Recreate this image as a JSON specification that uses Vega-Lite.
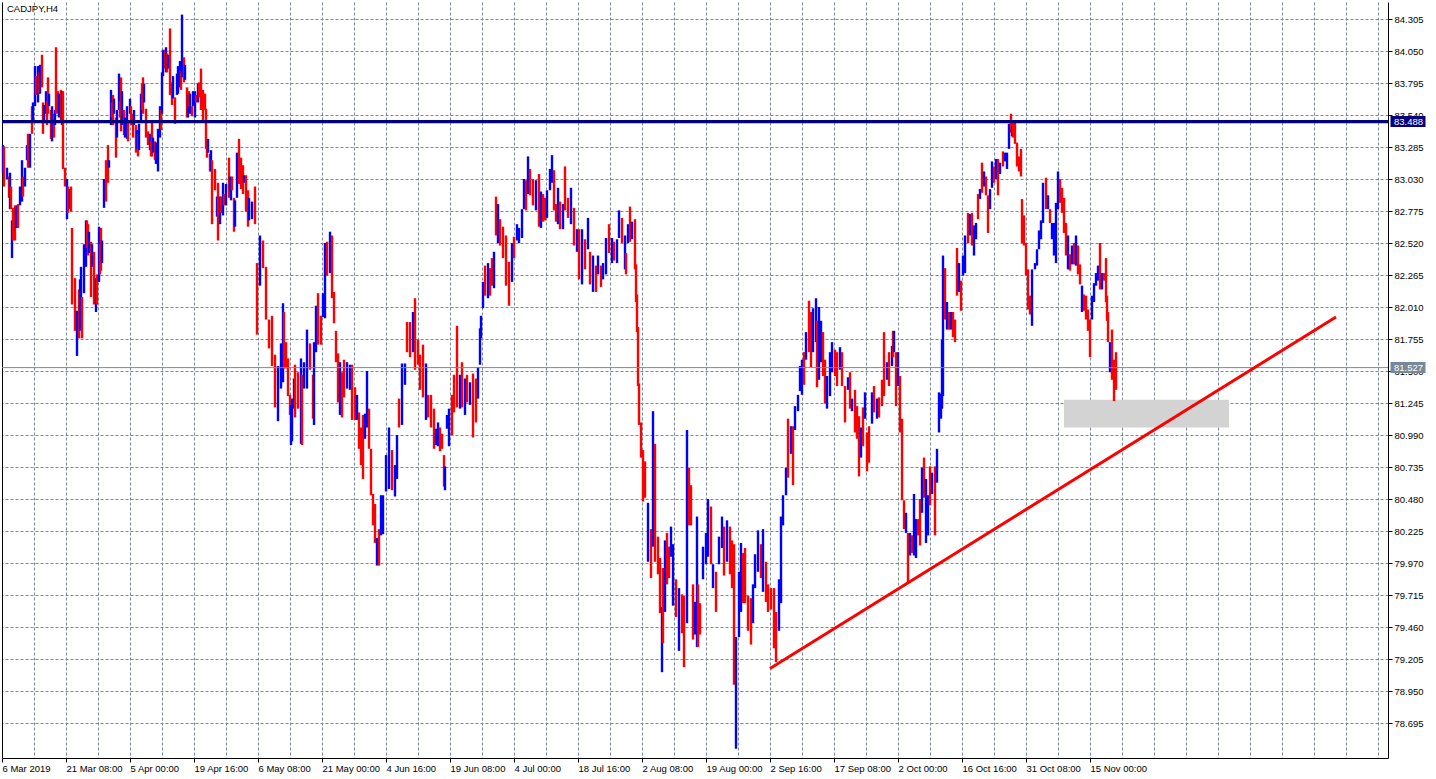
{
  "$schema": "https://vega.github.io/schema/vega-lite/v6.json",
  "width": 1386,
  "height": 756,
  "autosize": {"type": "none"},
  "padding": {"left": 2, "top": 2, "right": 48, "bottom": 21},
  "background": "#ffffff",
  "config": {
    "view": {"stroke": null},
    "axis": {"labelFont": "Liberation Sans", "labelFontSize": 9.5, "labelColor": "#000000", "tickColor": "#000000", "domainColor": "#000000", "gridColor": "#778899", "gridDash": [3, 2], "gridWidth": 1}
  },
  "datasets": {
    "bars": [
      {"x":3,"hi":83.30,"lo":83.08,"d":"u"},{"x":4,"hi":83.29,"lo":82.97,"d":"d"},{"x":7,"hi":83.12,"lo":83.03,"d":"u"},{"x":9,"hi":83.05,"lo":82.88,"d":"d"},{"x":10,"hi":83.08,"lo":82.79,"d":"u"},{"x":11,"hi":82.97,"lo":82.79,"d":"d"},{"x":12,"hi":82.70,"lo":82.40,"d":"u"},{"x":13,"hi":82.80,"lo":82.54,"d":"d"},{"x":15,"hi":82.82,"lo":82.54,"d":"d"},{"x":16,"hi":82.80,"lo":82.64,"d":"u"},{"x":17,"hi":82.82,"lo":82.64,"d":"u"},{"x":18,"hi":82.83,"lo":82.64,"d":"d"},{"x":20,"hi":82.97,"lo":82.82,"d":"u"},{"x":22,"hi":83.18,"lo":82.85,"d":"u"},{"x":23,"hi":83.05,"lo":82.89,"d":"d"},{"x":25,"hi":83.12,"lo":82.97,"d":"u"},{"x":27,"hi":83.30,"lo":83.18,"d":"u"},{"x":28,"hi":83.39,"lo":83.12,"d":"d"},{"x":29,"hi":83.38,"lo":83.24,"d":"d"},{"x":30,"hi":83.39,"lo":83.12,"d":"u"},
      {"x":32,"hi":83.61,"lo":83.39,"d":"d"},{"x":33,"hi":83.64,"lo":83.49,"d":"u"},{"x":35,"hi":83.93,"lo":83.61,"d":"u"},{"x":36,"hi":83.85,"lo":83.70,"d":"d"},{"x":38,"hi":83.93,"lo":83.64,"d":"u"},{"x":39,"hi":83.88,"lo":83.71,"d":"d"},{"x":40,"hi":83.94,"lo":83.71,"d":"u"},{"x":42,"hi":84.02,"lo":83.76,"d":"d"},{"x":43,"hi":83.64,"lo":83.39,"d":"d"},{"x":44,"hi":83.62,"lo":83.49,"d":"u"},{"x":46,"hi":83.73,"lo":83.55,"d":"u"},{"x":47,"hi":83.65,"lo":83.46,"d":"d"},{"x":48,"hi":83.84,"lo":83.55,"d":"d"},{"x":49,"hi":83.71,"lo":83.61,"d":"u"},{"x":51,"hi":83.58,"lo":83.35,"d":"d"},{"x":52,"hi":83.61,"lo":83.33,"d":"u"},{"x":54,"hi":83.55,"lo":83.36,"d":"d"},{"x":55,"hi":83.58,"lo":83.46,"d":"u"},{"x":56,"hi":84.08,"lo":83.55,"d":"d"},{"x":58,"hi":83.73,"lo":83.55,"d":"d"},
      {"x":59,"hi":83.71,"lo":83.52,"d":"u"},{"x":61,"hi":83.74,"lo":83.49,"d":"d"},{"x":62,"hi":83.73,"lo":83.46,"d":"u"},{"x":63,"hi":83.73,"lo":83.11,"d":"d"},{"x":65,"hi":83.12,"lo":82.97,"d":"d"},{"x":67,"hi":83.03,"lo":82.71,"d":"u"},{"x":68,"hi":82.97,"lo":82.76,"d":"d"},{"x":70,"hi":82.95,"lo":82.79,"d":"u"},{"x":71,"hi":82.97,"lo":82.77,"d":"d"},{"x":72,"hi":82.64,"lo":82.03,"d":"d"},{"x":75,"hi":82.24,"lo":81.82,"d":"d"},{"x":77,"hi":81.98,"lo":81.62,"d":"u"},{"x":79,"hi":82.15,"lo":81.76,"d":"d"},{"x":80,"hi":82.23,"lo":81.82,"d":"u"},{"x":81,"hi":82.33,"lo":82.03,"d":"u"},{"x":82,"hi":82.09,"lo":81.76,"d":"d"},{"x":84,"hi":82.51,"lo":82.12,"d":"u"},{"x":86,"hi":82.70,"lo":82.33,"d":"u"},{"x":87,"hi":82.70,"lo":82.48,"d":"d"},{"x":88,"hi":82.67,"lo":82.42,"d":"d"},
      {"x":89,"hi":82.61,"lo":82.44,"d":"u"},{"x":91,"hi":82.53,"lo":82.09,"d":"d"},{"x":92,"hi":82.51,"lo":82.33,"d":"u"},{"x":94,"hi":82.45,"lo":82.03,"d":"d"},{"x":96,"hi":82.24,"lo":81.97,"d":"u"},{"x":97,"hi":82.27,"lo":82.03,"d":"d"},{"x":99,"hi":82.65,"lo":82.21,"d":"u"},{"x":100,"hi":82.51,"lo":82.27,"d":"d"},{"x":101,"hi":82.64,"lo":82.30,"d":"d"},{"x":102,"hi":82.54,"lo":82.36,"d":"u"},{"x":104,"hi":83.03,"lo":82.80,"d":"u"},{"x":106,"hi":83.18,"lo":82.85,"d":"d"},{"x":108,"hi":83.30,"lo":83.00,"d":"d"},{"x":109,"hi":83.18,"lo":83.12,"d":"u"},{"x":111,"hi":83.74,"lo":83.46,"d":"u"},{"x":112,"hi":83.64,"lo":83.52,"d":"d"},{"x":113,"hi":83.70,"lo":83.46,"d":"d"},{"x":114,"hi":83.67,"lo":83.55,"d":"u"},{"x":116,"hi":83.52,"lo":83.20,"d":"d"},{"x":117,"hi":83.58,"lo":83.36,"d":"u"},
      {"x":119,"hi":83.87,"lo":83.58,"d":"u"},{"x":120,"hi":83.65,"lo":83.52,"d":"d"},{"x":121,"hi":83.84,"lo":83.41,"d":"d"},{"x":122,"hi":83.73,"lo":83.46,"d":"u"},{"x":124,"hi":83.58,"lo":83.38,"d":"d"},{"x":125,"hi":83.52,"lo":83.36,"d":"u"},{"x":127,"hi":83.61,"lo":83.35,"d":"u"},{"x":128,"hi":83.49,"lo":83.33,"d":"d"},{"x":130,"hi":83.67,"lo":83.55,"d":"u"},{"x":131,"hi":83.61,"lo":83.46,"d":"d"},{"x":133,"hi":83.55,"lo":83.36,"d":"d"},{"x":134,"hi":83.58,"lo":83.46,"d":"u"},{"x":136,"hi":83.46,"lo":83.24,"d":"d"},{"x":137,"hi":83.42,"lo":83.27,"d":"u"},{"x":138,"hi":83.39,"lo":83.21,"d":"d"},{"x":139,"hi":83.47,"lo":83.26,"d":"u"},{"x":141,"hi":83.71,"lo":83.49,"d":"u"},{"x":142,"hi":83.79,"lo":83.58,"d":"d"},{"x":143,"hi":83.84,"lo":83.55,"d":"d"},{"x":144,"hi":83.79,"lo":83.64,"d":"u"},
      {"x":146,"hi":83.59,"lo":83.36,"d":"d"},{"x":148,"hi":83.41,"lo":83.30,"d":"d"},{"x":150,"hi":83.39,"lo":83.26,"d":"u"},{"x":151,"hi":83.33,"lo":83.21,"d":"d"},{"x":152,"hi":83.49,"lo":83.21,"d":"d"},{"x":153,"hi":83.36,"lo":83.24,"d":"u"},{"x":155,"hi":83.33,"lo":83.18,"d":"d"},{"x":156,"hi":83.32,"lo":83.15,"d":"u"},{"x":158,"hi":83.43,"lo":83.09,"d":"u"},{"x":160,"hi":83.61,"lo":83.36,"d":"u"},{"x":161,"hi":83.58,"lo":83.42,"d":"d"},{"x":162,"hi":83.88,"lo":83.55,"d":"u"},{"x":163,"hi":84.06,"lo":83.85,"d":"u"},{"x":165,"hi":84.06,"lo":83.91,"d":"d"},{"x":166,"hi":84.08,"lo":83.88,"d":"u"},{"x":167,"hi":84.03,"lo":83.88,"d":"d"},{"x":168,"hi":84.02,"lo":83.91,"d":"u"},{"x":170,"hi":84.23,"lo":83.70,"d":"d"},{"x":172,"hi":83.80,"lo":83.62,"d":"d"},{"x":173,"hi":83.85,"lo":83.67,"d":"u"},
      {"x":175,"hi":83.68,"lo":83.47,"d":"d"},{"x":177,"hi":83.87,"lo":83.70,"d":"u"},{"x":178,"hi":83.93,"lo":83.71,"d":"u"},{"x":180,"hi":83.97,"lo":83.76,"d":"u"},{"x":181,"hi":83.89,"lo":83.74,"d":"d"},{"x":182,"hi":84.34,"lo":83.84,"d":"u"},{"x":184,"hi":84.00,"lo":83.80,"d":"d"},{"x":185,"hi":83.94,"lo":83.82,"d":"u"},{"x":187,"hi":83.76,"lo":83.52,"d":"d"},{"x":188,"hi":83.70,"lo":83.52,"d":"u"},{"x":189,"hi":83.73,"lo":83.61,"d":"d"},{"x":190,"hi":83.71,"lo":83.55,"d":"u"},{"x":192,"hi":83.61,"lo":83.53,"d":"d"},{"x":193,"hi":83.73,"lo":83.61,"d":"u"},{"x":195,"hi":83.73,"lo":83.52,"d":"u"},{"x":196,"hi":83.70,"lo":83.64,"d":"d"},{"x":198,"hi":83.79,"lo":83.64,"d":"u"},{"x":199,"hi":83.80,"lo":83.68,"d":"d"},{"x":201,"hi":83.91,"lo":83.58,"d":"d"},{"x":203,"hi":83.74,"lo":83.50,"d":"d"},
      {"x":205,"hi":83.71,"lo":83.58,"d":"d"},{"x":206,"hi":83.59,"lo":83.27,"d":"d"},{"x":207,"hi":83.33,"lo":83.20,"d":"d"},{"x":208,"hi":83.35,"lo":83.24,"d":"u"},{"x":210,"hi":83.23,"lo":83.09,"d":"d"},{"x":211,"hi":83.26,"lo":83.09,"d":"u"},{"x":212,"hi":83.18,"lo":82.67,"d":"d"},{"x":215,"hi":83.11,"lo":82.94,"d":"d"},{"x":217,"hi":82.89,"lo":82.73,"d":"u"},{"x":218,"hi":83.00,"lo":82.54,"d":"d"},{"x":220,"hi":82.89,"lo":82.67,"d":"u"},{"x":221,"hi":82.89,"lo":82.76,"d":"d"},{"x":223,"hi":83.00,"lo":82.74,"d":"u"},{"x":224,"hi":82.91,"lo":82.82,"d":"d"},{"x":226,"hi":82.99,"lo":82.82,"d":"u"},{"x":229,"hi":83.20,"lo":82.88,"d":"d"},{"x":230,"hi":83.05,"lo":82.94,"d":"u"},{"x":231,"hi":82.97,"lo":82.86,"d":"u"},{"x":232,"hi":83.05,"lo":82.94,"d":"d"},{"x":234,"hi":82.88,"lo":82.61,"d":"d"},
      {"x":235,"hi":82.86,"lo":82.65,"d":"u"},{"x":237,"hi":83.24,"lo":82.88,"d":"u"},{"x":239,"hi":83.35,"lo":82.99,"d":"d"},{"x":241,"hi":83.20,"lo":82.95,"d":"d"},{"x":243,"hi":83.14,"lo":82.91,"d":"d"},{"x":244,"hi":83.06,"lo":83.00,"d":"u"},{"x":246,"hi":83.06,"lo":82.77,"d":"d"},{"x":248,"hi":82.94,"lo":82.65,"d":"d"},{"x":249,"hi":82.88,"lo":82.70,"d":"u"},{"x":252,"hi":82.85,"lo":82.71,"d":"u"},{"x":255,"hi":82.97,"lo":82.67,"d":"d"},{"x":257,"hi":82.36,"lo":81.79,"d":"d"},{"x":260,"hi":82.58,"lo":82.18,"d":"u"},{"x":263,"hi":82.54,"lo":82.32,"d":"d"},{"x":266,"hi":82.33,"lo":81.91,"d":"d"},{"x":269,"hi":81.91,"lo":81.68,"d":"d"},{"x":272,"hi":81.94,"lo":81.54,"d":"d"},{"x":275,"hi":81.63,"lo":81.21,"d":"d"},{"x":278,"hi":81.54,"lo":81.10,"d":"u"},{"x":281,"hi":81.72,"lo":81.36,"d":"u"},{"x":283,"hi":82.04,"lo":81.41,"d":"u"},
      {"x":284,"hi":81.97,"lo":81.52,"d":"d"},{"x":286,"hi":81.73,"lo":81.52,"d":"d"},{"x":288,"hi":81.60,"lo":81.30,"d":"d"},{"x":290,"hi":81.31,"lo":81.15,"d":"d"},{"x":291,"hi":81.23,"lo":80.91,"d":"u"},{"x":292,"hi":81.28,"lo":80.94,"d":"u"},{"x":294,"hi":81.44,"lo":81.20,"d":"u"},{"x":295,"hi":81.55,"lo":81.13,"d":"d"},{"x":298,"hi":81.49,"lo":81.20,"d":"d"},{"x":301,"hi":81.60,"lo":80.92,"d":"u"},{"x":302,"hi":81.47,"lo":80.91,"d":"d"},{"x":304,"hi":81.57,"lo":81.36,"d":"u"},{"x":307,"hi":81.83,"lo":81.36,"d":"u"},{"x":310,"hi":81.72,"lo":81.51,"d":"d"},{"x":313,"hi":81.47,"lo":81.12,"d":"d"},{"x":314,"hi":81.73,"lo":81.07,"d":"u"},{"x":316,"hi":82.02,"lo":81.65,"d":"u"},{"x":318,"hi":82.12,"lo":81.71,"d":"d"},{"x":321,"hi":81.94,"lo":81.71,"d":"d"},{"x":323,"hi":82.12,"lo":81.93,"d":"u"},{"x":325,"hi":82.52,"lo":81.92,"d":"u"},
      {"x":327,"hi":82.53,"lo":82.26,"d":"d"},{"x":330,"hi":82.61,"lo":82.28,"d":"u"},{"x":332,"hi":82.58,"lo":82.08,"d":"d"},{"x":334,"hi":82.13,"lo":81.88,"d":"d"},{"x":336,"hi":81.82,"lo":81.57,"d":"d"},{"x":338,"hi":81.64,"lo":81.25,"d":"d"},{"x":340,"hi":81.57,"lo":81.15,"d":"u"},{"x":342,"hi":81.49,"lo":81.13,"d":"d"},{"x":344,"hi":81.59,"lo":81.29,"d":"d"},{"x":347,"hi":81.57,"lo":81.36,"d":"u"},{"x":350,"hi":81.55,"lo":81.35,"d":"u"},{"x":352,"hi":81.55,"lo":81.11,"d":"d"},{"x":355,"hi":81.37,"lo":81.11,"d":"d"},{"x":357,"hi":81.31,"lo":81.11,"d":"u"},{"x":359,"hi":81.17,"lo":80.88,"d":"d"},{"x":361,"hi":81.05,"lo":80.75,"d":"d"},{"x":363,"hi":81.15,"lo":80.64,"d":"d"},{"x":365,"hi":81.16,"lo":80.96,"d":"u"},{"x":367,"hi":81.50,"lo":81.05,"d":"u"},{"x":369,"hi":81.20,"lo":80.88,"d":"d"},
      {"x":371,"hi":80.88,"lo":80.51,"d":"d"},{"x":373,"hi":80.52,"lo":80.27,"d":"d"},{"x":375,"hi":80.44,"lo":80.13,"d":"d"},{"x":377,"hi":80.17,"lo":79.95,"d":"u"},{"x":379,"hi":80.24,"lo":79.95,"d":"d"},{"x":381,"hi":80.51,"lo":80.19,"d":"u"},{"x":383,"hi":80.51,"lo":80.20,"d":"u"},{"x":386,"hi":80.83,"lo":80.54,"d":"u"},{"x":389,"hi":81.05,"lo":80.56,"d":"u"},{"x":392,"hi":80.87,"lo":80.55,"d":"d"},{"x":395,"hi":80.75,"lo":80.50,"d":"u"},{"x":397,"hi":80.99,"lo":80.64,"d":"u"},{"x":399,"hi":81.28,"lo":81.05,"d":"d"},{"x":402,"hi":81.56,"lo":81.07,"d":"u"},{"x":405,"hi":81.56,"lo":81.39,"d":"u"},{"x":407,"hi":81.89,"lo":81.65,"d":"d"},{"x":410,"hi":81.89,"lo":81.61,"d":"d"},{"x":413,"hi":81.97,"lo":81.65,"d":"u"},{"x":415,"hi":82.08,"lo":81.51,"d":"d"},{"x":418,"hi":81.75,"lo":81.55,"d":"d"},
      {"x":420,"hi":81.63,"lo":81.35,"d":"d"},{"x":423,"hi":81.71,"lo":81.29,"d":"d"},{"x":426,"hi":81.56,"lo":81.11,"d":"u"},{"x":428,"hi":81.31,"lo":81.13,"d":"d"},{"x":431,"hi":81.31,"lo":81.05,"d":"d"},{"x":434,"hi":81.20,"lo":80.88,"d":"d"},{"x":436,"hi":81.04,"lo":80.91,"d":"u"},{"x":438,"hi":81.09,"lo":80.90,"d":"u"},{"x":440,"hi":81.05,"lo":80.86,"d":"d"},{"x":442,"hi":81.00,"lo":80.88,"d":"d"},{"x":444,"hi":80.83,"lo":80.58,"d":"d"},{"x":445,"hi":80.74,"lo":80.55,"d":"u"},{"x":447,"hi":81.15,"lo":81.04,"d":"u"},{"x":449,"hi":81.20,"lo":80.90,"d":"u"},{"x":452,"hi":81.31,"lo":80.99,"d":"d"},{"x":454,"hi":81.47,"lo":81.17,"d":"d"},{"x":457,"hi":81.86,"lo":81.21,"d":"d"},{"x":460,"hi":81.47,"lo":81.20,"d":"u"},{"x":462,"hi":81.57,"lo":81.21,"d":"d"},{"x":465,"hi":81.44,"lo":81.15,"d":"u"},{"x":467,"hi":81.47,"lo":81.25,"d":"d"},
      {"x":470,"hi":81.41,"lo":81.23,"d":"u"},{"x":473,"hi":81.48,"lo":80.97,"d":"d"},{"x":476,"hi":81.44,"lo":81.09,"d":"d"},{"x":478,"hi":81.53,"lo":81.28,"d":"u"},{"x":480,"hi":81.84,"lo":81.55,"d":"u"},{"x":481,"hi":81.94,"lo":81.76,"d":"u"},{"x":483,"hi":82.21,"lo":82.00,"d":"u"},{"x":485,"hi":82.34,"lo":82.10,"d":"d"},{"x":488,"hi":82.36,"lo":82.08,"d":"u"},{"x":490,"hi":82.32,"lo":82.10,"d":"d"},{"x":492,"hi":82.40,"lo":82.18,"d":"d"},{"x":494,"hi":82.45,"lo":82.16,"d":"u"},{"x":496,"hi":82.89,"lo":82.58,"d":"d"},{"x":498,"hi":82.83,"lo":82.52,"d":"u"},{"x":500,"hi":82.71,"lo":82.50,"d":"d"},{"x":503,"hi":82.65,"lo":82.40,"d":"d"},{"x":506,"hi":82.58,"lo":82.18,"d":"d"},{"x":509,"hi":82.37,"lo":82.02,"d":"d"},{"x":512,"hi":82.52,"lo":82.21,"d":"u"},{"x":514,"hi":82.57,"lo":82.40,"d":"d"},{"x":517,"hi":82.67,"lo":82.54,"d":"u"},
      {"x":519,"hi":82.64,"lo":82.52,"d":"u"},{"x":522,"hi":82.79,"lo":82.56,"d":"u"},{"x":524,"hi":83.03,"lo":82.79,"d":"u"},{"x":526,"hi":83.02,"lo":82.78,"d":"d"},{"x":528,"hi":83.21,"lo":82.91,"d":"u"},{"x":530,"hi":83.11,"lo":82.90,"d":"d"},{"x":533,"hi":83.03,"lo":82.82,"d":"d"},{"x":536,"hi":83.02,"lo":82.78,"d":"u"},{"x":539,"hi":83.07,"lo":82.65,"d":"d"},{"x":541,"hi":82.93,"lo":82.64,"d":"u"},{"x":543,"hi":82.91,"lo":82.69,"d":"d"},{"x":545,"hi":82.88,"lo":82.70,"d":"d"},{"x":547,"hi":82.94,"lo":82.72,"d":"u"},{"x":550,"hi":83.11,"lo":82.94,"d":"u"},{"x":552,"hi":83.22,"lo":83.00,"d":"u"},{"x":554,"hi":83.10,"lo":82.78,"d":"d"},{"x":556,"hi":82.83,"lo":82.69,"d":"d"},{"x":558,"hi":82.96,"lo":82.67,"d":"u"},{"x":560,"hi":82.85,"lo":82.63,"d":"d"},{"x":563,"hi":82.83,"lo":82.63,"d":"u"},{"x":565,"hi":83.13,"lo":82.78,"d":"d"},
      {"x":568,"hi":82.88,"lo":82.72,"d":"d"},{"x":571,"hi":82.96,"lo":82.67,"d":"u"},{"x":574,"hi":82.80,"lo":82.50,"d":"d"},{"x":577,"hi":82.63,"lo":82.45,"d":"u"},{"x":579,"hi":82.63,"lo":82.23,"d":"d"},{"x":582,"hi":82.63,"lo":82.19,"d":"u"},{"x":585,"hi":82.55,"lo":82.31,"d":"d"},{"x":588,"hi":82.72,"lo":82.47,"d":"u"},{"x":590,"hi":82.45,"lo":82.19,"d":"d"},{"x":593,"hi":82.42,"lo":82.13,"d":"u"},{"x":596,"hi":82.34,"lo":82.13,"d":"d"},{"x":598,"hi":82.42,"lo":82.27,"d":"u"},{"x":601,"hi":82.34,"lo":82.17,"d":"d"},{"x":603,"hi":82.36,"lo":82.23,"d":"u"},{"x":606,"hi":82.56,"lo":82.27,"d":"u"},{"x":609,"hi":82.67,"lo":82.44,"d":"d"},{"x":612,"hi":82.56,"lo":82.36,"d":"u"},{"x":614,"hi":82.53,"lo":82.38,"d":"d"},{"x":617,"hi":82.55,"lo":82.36,"d":"u"},{"x":619,"hi":82.78,"lo":82.56,"d":"u"},
      {"x":622,"hi":82.72,"lo":82.52,"d":"d"},{"x":625,"hi":82.58,"lo":82.31,"d":"u"},{"x":626,"hi":82.44,"lo":82.27,"d":"d"},{"x":628,"hi":82.67,"lo":82.52,"d":"u"},{"x":630,"hi":82.81,"lo":82.53,"d":"d"},{"x":632,"hi":82.69,"lo":82.55,"d":"u"},{"x":635,"hi":82.71,"lo":82.31,"d":"d"},{"x":636,"hi":82.35,"lo":82.05,"d":"d"},{"x":637,"hi":82.11,"lo":81.81,"d":"d"},{"x":638,"hi":81.85,"lo":81.38,"d":"d"},{"x":639,"hi":81.40,"lo":81.07,"d":"d"},{"x":641,"hi":81.09,"lo":80.81,"d":"d"},{"x":643,"hi":80.87,"lo":80.46,"d":"d"},{"x":645,"hi":80.78,"lo":80.49,"d":"d"},{"x":648,"hi":80.45,"lo":79.98,"d":"u"},{"x":651,"hi":80.24,"lo":79.85,"d":"d"},{"x":653,"hi":81.18,"lo":80.10,"d":"u"},{"x":655,"hi":80.92,"lo":79.98,"d":"d"},{"x":658,"hi":80.18,"lo":79.88,"d":"d"},{"x":660,"hi":80.01,"lo":79.57,"d":"d"},{"x":662,"hi":79.62,"lo":79.10,"d":"u"},{"x":663,"hi":79.93,"lo":79.33,"d":"d"},
      {"x":665,"hi":80.15,"lo":79.58,"d":"u"},{"x":667,"hi":80.21,"lo":79.80,"d":"d"},{"x":669,"hi":80.10,"lo":79.85,"d":"d"},{"x":671,"hi":80.26,"lo":80.02,"d":"u"},{"x":673,"hi":80.12,"lo":79.63,"d":"u"},{"x":676,"hi":79.84,"lo":79.54,"d":"d"},{"x":679,"hi":79.77,"lo":79.27,"d":"u"},{"x":682,"hi":79.72,"lo":79.41,"d":"d"},{"x":684,"hi":79.71,"lo":79.14,"d":"d"},{"x":687,"hi":81.03,"lo":79.49,"d":"u"},{"x":689,"hi":80.73,"lo":80.27,"d":"d"},{"x":691,"hi":80.59,"lo":80.27,"d":"d"},{"x":693,"hi":79.80,"lo":79.36,"d":"d"},{"x":695,"hi":79.66,"lo":79.40,"d":"u"},{"x":697,"hi":80.34,"lo":79.30,"d":"u"},{"x":698,"hi":79.80,"lo":79.30,"d":"d"},{"x":700,"hi":79.65,"lo":79.40,"d":"d"},{"x":703,"hi":80.10,"lo":79.84,"d":"u"},{"x":706,"hi":80.21,"lo":79.96,"d":"u"},{"x":708,"hi":80.48,"lo":80.02,"d":"u"},{"x":711,"hi":80.42,"lo":79.96,"d":"d"},
      {"x":713,"hi":79.96,"lo":79.77,"d":"u"},{"x":716,"hi":79.90,"lo":79.58,"d":"d"},{"x":719,"hi":80.18,"lo":79.96,"d":"u"},{"x":722,"hi":80.34,"lo":80.09,"d":"u"},{"x":724,"hi":80.26,"lo":79.87,"d":"d"},{"x":727,"hi":80.31,"lo":79.98,"d":"u"},{"x":730,"hi":80.26,"lo":79.88,"d":"d"},{"x":732,"hi":80.15,"lo":79.77,"d":"d"},{"x":734,"hi":80.12,"lo":79.00,"d":"d"},{"x":736,"hi":79.38,"lo":78.49,"d":"u"},{"x":739,"hi":79.90,"lo":79.38,"d":"u"},{"x":741,"hi":80.13,"lo":79.58,"d":"u"},{"x":743,"hi":80.05,"lo":79.65,"d":"d"},{"x":745,"hi":80.09,"lo":79.65,"d":"d"},{"x":748,"hi":79.71,"lo":79.43,"d":"d"},{"x":751,"hi":79.69,"lo":79.32,"d":"d"},{"x":753,"hi":79.80,"lo":79.49,"d":"u"},{"x":755,"hi":80.04,"lo":79.77,"d":"u"},{"x":758,"hi":80.23,"lo":79.90,"d":"u"},{"x":761,"hi":80.12,"lo":79.85,"d":"d"},
      {"x":763,"hi":80.24,"lo":79.74,"d":"u"},{"x":766,"hi":79.98,"lo":79.66,"d":"d"},{"x":768,"hi":79.80,"lo":79.58,"d":"d"},{"x":771,"hi":79.77,"lo":79.60,"d":"d"},{"x":774,"hi":79.77,"lo":79.29,"d":"d"},{"x":776,"hi":79.58,"lo":79.18,"d":"d"},{"x":779,"hi":79.84,"lo":79.43,"d":"u"},{"x":781,"hi":80.34,"lo":79.65,"d":"u"},{"x":783,"hi":80.51,"lo":80.27,"d":"u"},{"x":786,"hi":80.73,"lo":80.51,"d":"u"},{"x":788,"hi":81.12,"lo":80.65,"d":"d"},{"x":791,"hi":81.06,"lo":80.84,"d":"u"},{"x":793,"hi":81.06,"lo":80.59,"d":"d"},{"x":795,"hi":81.22,"lo":81.03,"d":"u"},{"x":798,"hi":81.31,"lo":81.18,"d":"u"},{"x":800,"hi":81.54,"lo":81.34,"d":"u"},{"x":802,"hi":81.59,"lo":81.31,"d":"u"},{"x":804,"hi":81.65,"lo":81.39,"d":"d"},{"x":806,"hi":81.81,"lo":81.59,"d":"u"},{"x":809,"hi":82.06,"lo":81.65,"d":"d"},
      {"x":811,"hi":81.97,"lo":81.53,"d":"d"},{"x":813,"hi":82.00,"lo":81.65,"d":"u"},{"x":816,"hi":82.08,"lo":81.73,"d":"u"},{"x":817,"hi":81.90,"lo":81.37,"d":"d"},{"x":819,"hi":82.01,"lo":81.43,"d":"u"},{"x":821,"hi":81.90,"lo":81.57,"d":"u"},{"x":823,"hi":81.81,"lo":81.46,"d":"d"},{"x":825,"hi":81.59,"lo":81.24,"d":"d"},{"x":827,"hi":81.46,"lo":81.20,"d":"u"},{"x":830,"hi":81.65,"lo":81.30,"d":"u"},{"x":832,"hi":81.73,"lo":81.49,"d":"u"},{"x":835,"hi":81.67,"lo":81.46,"d":"d"},{"x":837,"hi":81.65,"lo":81.38,"d":"d"},{"x":840,"hi":81.69,"lo":81.51,"d":"u"},{"x":842,"hi":81.65,"lo":81.38,"d":"d"},{"x":845,"hi":81.38,"lo":81.09,"d":"d"},{"x":848,"hi":81.45,"lo":81.35,"d":"u"},{"x":850,"hi":81.49,"lo":81.20,"d":"d"},{"x":852,"hi":81.28,"lo":81.18,"d":"u"},{"x":855,"hi":81.35,"lo":81.01,"d":"d"},
      {"x":857,"hi":81.22,"lo":80.96,"d":"d"},{"x":859,"hi":81.14,"lo":80.66,"d":"d"},{"x":861,"hi":81.05,"lo":80.81,"d":"u"},{"x":863,"hi":81.21,"lo":80.90,"d":"d"},{"x":865,"hi":81.33,"lo":81.12,"d":"u"},{"x":867,"hi":81.01,"lo":80.70,"d":"d"},{"x":869,"hi":81.06,"lo":80.77,"d":"d"},{"x":872,"hi":81.33,"lo":81.08,"d":"u"},{"x":874,"hi":81.38,"lo":81.17,"d":"d"},{"x":877,"hi":81.28,"lo":81.12,"d":"u"},{"x":879,"hi":81.29,"lo":81.13,"d":"d"},{"x":882,"hi":81.43,"lo":81.22,"d":"d"},{"x":884,"hi":81.81,"lo":81.30,"d":"d"},{"x":887,"hi":81.57,"lo":81.43,"d":"u"},{"x":889,"hi":81.65,"lo":81.38,"d":"d"},{"x":892,"hi":81.70,"lo":81.54,"d":"u"},{"x":893,"hi":81.82,"lo":81.61,"d":"d"},{"x":894,"hi":81.82,"lo":81.65,"d":"u"},{"x":896,"hi":81.65,"lo":81.22,"d":"d"},{"x":898,"hi":81.65,"lo":81.38,"d":"u"},
      {"x":900,"hi":81.46,"lo":81.01,"d":"d"},{"x":902,"hi":81.12,"lo":80.47,"d":"d"},{"x":904,"hi":80.47,"lo":80.24,"d":"d"},{"x":906,"hi":80.37,"lo":80.21,"d":"u"},{"x":908,"hi":80.21,"lo":79.81,"d":"d"},{"x":910,"hi":80.21,"lo":80.03,"d":"u"},{"x":912,"hi":80.19,"lo":80.05,"d":"d"},{"x":914,"hi":80.52,"lo":80.03,"d":"u"},{"x":916,"hi":80.32,"lo":80.01,"d":"u"},{"x":918,"hi":80.32,"lo":80.19,"d":"d"},{"x":920,"hi":80.48,"lo":80.11,"d":"d"},{"x":922,"hi":80.73,"lo":80.37,"d":"u"},{"x":924,"hi":80.81,"lo":80.49,"d":"d"},{"x":926,"hi":80.64,"lo":80.13,"d":"u"},{"x":928,"hi":80.51,"lo":80.19,"d":"u"},{"x":930,"hi":80.74,"lo":80.43,"d":"d"},{"x":932,"hi":80.69,"lo":80.52,"d":"u"},{"x":935,"hi":80.74,"lo":80.19,"d":"d"},{"x":937,"hi":80.88,"lo":80.61,"d":"u"},{"x":939,"hi":81.33,"lo":81.01,"d":"u"},
      {"x":941,"hi":81.32,"lo":81.12,"d":"u"},{"x":942,"hi":81.75,"lo":81.20,"d":"u"},{"x":943,"hi":82.42,"lo":81.30,"d":"u"},{"x":945,"hi":82.32,"lo":81.91,"d":"d"},{"x":947,"hi":82.05,"lo":81.83,"d":"u"},{"x":949,"hi":81.97,"lo":81.83,"d":"d"},{"x":951,"hi":81.97,"lo":81.83,"d":"u"},{"x":953,"hi":81.97,"lo":81.77,"d":"d"},{"x":955,"hi":81.91,"lo":81.73,"d":"d"},{"x":957,"hi":82.48,"lo":82.10,"d":"d"},{"x":959,"hi":82.36,"lo":82.13,"d":"u"},{"x":961,"hi":82.22,"lo":81.98,"d":"d"},{"x":963,"hi":82.42,"lo":82.26,"d":"u"},{"x":965,"hi":82.58,"lo":82.28,"d":"u"},{"x":968,"hi":82.76,"lo":82.52,"d":"d"},{"x":970,"hi":82.75,"lo":82.58,"d":"u"},{"x":972,"hi":82.76,"lo":82.50,"d":"d"},{"x":974,"hi":82.66,"lo":82.42,"d":"u"},{"x":976,"hi":82.68,"lo":82.55,"d":"u"},{"x":978,"hi":82.91,"lo":82.71,"d":"d"},{"x":980,"hi":82.95,"lo":82.87,"d":"u"},
      {"x":982,"hi":83.16,"lo":82.92,"d":"d"},{"x":984,"hi":83.09,"lo":82.97,"d":"u"},{"x":986,"hi":83.05,"lo":82.90,"d":"d"},{"x":988,"hi":82.90,"lo":82.60,"d":"d"},{"x":990,"hi":82.95,"lo":82.79,"d":"u"},{"x":992,"hi":83.17,"lo":82.96,"d":"u"},{"x":994,"hi":83.13,"lo":83.00,"d":"d"},{"x":996,"hi":83.19,"lo":83.03,"d":"u"},{"x":998,"hi":83.19,"lo":82.90,"d":"d"},{"x":1000,"hi":83.16,"lo":83.07,"d":"u"},{"x":1003,"hi":83.25,"lo":83.13,"d":"d"},{"x":1005,"hi":83.24,"lo":83.17,"d":"u"},{"x":1007,"hi":83.24,"lo":83.11,"d":"u"},{"x":1009,"hi":83.47,"lo":83.27,"d":"u"},{"x":1011,"hi":83.55,"lo":83.40,"d":"d"},{"x":1012,"hi":83.45,"lo":83.37,"d":"u"},{"x":1013,"hi":83.48,"lo":83.36,"d":"d"},{"x":1015,"hi":83.48,"lo":83.31,"d":"d"},{"x":1017,"hi":83.32,"lo":83.13,"d":"d"},{"x":1019,"hi":83.21,"lo":83.09,"d":"d"},
      {"x":1021,"hi":83.27,"lo":83.05,"d":"d"},{"x":1022,"hi":82.87,"lo":82.52,"d":"d"},{"x":1024,"hi":82.74,"lo":82.50,"d":"d"},{"x":1026,"hi":82.52,"lo":82.26,"d":"d"},{"x":1028,"hi":82.31,"lo":81.99,"d":"d"},{"x":1030,"hi":82.10,"lo":81.95,"d":"d"},{"x":1032,"hi":82.31,"lo":81.86,"d":"u"},{"x":1035,"hi":82.36,"lo":82.31,"d":"u"},{"x":1037,"hi":82.47,"lo":82.34,"d":"u"},{"x":1039,"hi":82.62,"lo":82.47,"d":"u"},{"x":1041,"hi":82.70,"lo":82.55,"d":"u"},{"x":1043,"hi":83.00,"lo":82.68,"d":"u"},{"x":1046,"hi":83.04,"lo":82.79,"d":"d"},{"x":1048,"hi":82.90,"lo":82.79,"d":"u"},{"x":1050,"hi":82.79,"lo":82.68,"d":"d"},{"x":1052,"hi":82.68,"lo":82.55,"d":"u"},{"x":1054,"hi":82.68,"lo":82.42,"d":"u"},{"x":1056,"hi":82.84,"lo":82.36,"d":"u"},{"x":1058,"hi":83.09,"lo":82.79,"d":"u"},{"x":1060,"hi":83.03,"lo":82.84,"d":"d"},
      {"x":1062,"hi":82.96,"lo":82.76,"d":"d"},{"x":1064,"hi":82.88,"lo":82.60,"d":"d"},{"x":1066,"hi":82.68,"lo":82.42,"d":"d"},{"x":1068,"hi":82.58,"lo":82.31,"d":"u"},{"x":1070,"hi":82.43,"lo":82.30,"d":"d"},{"x":1072,"hi":82.50,"lo":82.35,"d":"u"},{"x":1074,"hi":82.52,"lo":82.35,"d":"d"},{"x":1076,"hi":82.58,"lo":82.34,"d":"u"},{"x":1078,"hi":82.50,"lo":82.27,"d":"d"},{"x":1080,"hi":82.35,"lo":82.19,"d":"d"},{"x":1082,"hi":82.18,"lo":81.97,"d":"u"},{"x":1084,"hi":82.11,"lo":81.98,"d":"d"},{"x":1086,"hi":82.10,"lo":81.91,"d":"d"},{"x":1088,"hi":81.99,"lo":81.82,"d":"d"},{"x":1090,"hi":81.91,"lo":81.61,"d":"d"},{"x":1092,"hi":82.10,"lo":81.91,"d":"u"},{"x":1094,"hi":82.20,"lo":82.05,"d":"u"},{"x":1096,"hi":82.28,"lo":82.18,"d":"u"},{"x":1098,"hi":82.34,"lo":82.22,"d":"u"},{"x":1100,"hi":82.52,"lo":82.15,"d":"d"},
      {"x":1102,"hi":82.28,"lo":82.15,"d":"u"},{"x":1104,"hi":82.28,"lo":82.22,"d":"d"},{"x":1106,"hi":82.40,"lo":82.05,"d":"d"},{"x":1107,"hi":82.10,"lo":81.90,"d":"d"},{"x":1108,"hi":81.97,"lo":81.73,"d":"d"},{"x":1110,"hi":81.73,"lo":81.49,"d":"u"},{"x":1112,"hi":81.83,"lo":81.43,"d":"d"},{"x":1114,"hi":81.59,"lo":81.26,"d":"d"},{"x":1116,"hi":81.65,"lo":81.35,"d":"d"}
    ],
    "zone": [{"x": 1064, "x2": 1229, "hi": 81.27, "lo": 81.05}],
    "levels": [{"name": "resistance", "p": 83.488}, {"name": "last", "p": 81.527}],
    "trend": [{"x": 770, "p": 79.13}, {"x": 1336, "p": 81.93}],
    "symbol": [{"label": "CADJPY,H4"}]
  },
  "resolve": {"axis": {"x": "independent", "y": "independent"}},
  "layer": [
    {
      "data": {"name": "zone"},
      "mark": {"type": "rect", "color": "#d3d3d3"},
      "encoding": {
        "x": {"field": "x", "type": "quantitative", "scale": {"domain": [2, 1388], "nice": false, "zero": false}, "axis": null},
        "x2": {"field": "x2"},
        "y": {"field": "hi", "type": "quantitative", "scale": {"domain": [78.4161, 84.4405], "nice": false, "zero": false},
              "axis": {"orient": "left", "title": null, "labels": false, "ticks": false, "grid": false, "domain": true, "domainColor": "#000000"}},
        "y2": {"field": "lo"}
      }
    },
    {
      "data": {"name": "bars"},
      "mark": {"type": "rule", "strokeWidth": 2.4},
      "encoding": {
        "x": {"field": "x", "type": "quantitative", "scale": {"domain": [2, 1388], "nice": false, "zero": false},
              "axis": {"title": null, "orient": "bottom",
                       "values": [2,34,66,98,130,162,194,226,258,290,322,354,386,418,450,482,514,546,578,610,642,674,706,738,770,802,834,866,898,930,962,994,1026,1058,1090,1122,1154,1186,1218,1250,1282,1314,1346,1378],
                       "grid": true, "domain": true, "tickSize": 4,
                       "tickOpacity": {"condition": {"test": "datum.value <= 1090 && (datum.value - 2) % 64 == 0", "value": 1}, "value": 0},
                       "labelExpr": "datum.value <= 1090 && (datum.value - 2) % 64 == 0 ? ['6 Mar 2019','21 Mar 08:00','5 Apr 00:00','19 Apr 16:00','6 May 08:00','21 May 00:00','4 Jun 16:00','19 Jun 08:00','4 Jul 00:00','18 Jul 16:00','2 Aug 08:00','19 Aug 00:00','2 Sep 16:00','17 Sep 08:00','2 Oct 00:00','16 Oct 16:00','31 Oct 08:00','15 Nov 00:00'][(datum.value - 2) / 64] : ''",
                       "labelAlign": "left", "labelBaseline": "top", "labelPadding": 1, "labelOverlap": false, "labelBound": false, "labelFlush": false}},
        "y": {"field": "hi", "type": "quantitative", "scale": {"domain": [78.4161, 84.4405], "nice": false, "zero": false},
              "axis": {"title": null, "orient": "right",
                       "values": [84.305,84.05,83.795,83.54,83.285,83.03,82.775,82.52,82.265,82.01,81.755,81.5,81.245,80.99,80.735,80.48,80.225,79.97,79.715,79.46,79.205,78.95,78.695],
                       "format": ".3f", "grid": true, "domain": true, "tickSize": 4, "labelPadding": 2, "labelAlign": "left", "labelBaseline": "middle", "labelOverlap": false, "labelBound": false, "labelFlush": false}},
        "y2": {"field": "lo"},
        "color": {"field": "d", "type": "nominal", "scale": {"domain": ["d", "u"], "range": ["#ff0000", "#0000ff"]}, "legend": null}
      }
    },
    {
      "data": {"name": "levels"},
      "mark": {"type": "rule"},
      "encoding": {
        "y": {"field": "p", "type": "quantitative", "scale": {"domain": [78.4161, 84.4405], "nice": false, "zero": false}, "axis": null},
        "color": {"condition": {"test": "datum.name == 'resistance'", "value": "#000080"}, "value": "#778899"},
        "strokeWidth": {"condition": {"test": "datum.name == 'resistance'", "value": 3.2}, "value": 1}
      }
    },
    {
      "data": {"name": "trend"},
      "mark": {"type": "line", "color": "#ff0000", "strokeWidth": 3},
      "encoding": {
        "x": {"field": "x", "type": "quantitative", "scale": {"domain": [2, 1388], "nice": false, "zero": false}, "axis": null},
        "y": {"field": "p", "type": "quantitative", "scale": {"domain": [78.4161, 84.4405], "nice": false, "zero": false}, "axis": null}
      }
    },
    {
      "data": {"name": "levels"},
      "mark": {"type": "tick", "orient": "horizontal", "size": 35, "thickness": 11, "opacity": 1},
      "encoding": {
        "x": {"datum": 1408, "type": "quantitative", "scale": {"domain": [2, 1388], "nice": false, "zero": false}, "axis": null},
        "y": {"field": "p", "type": "quantitative", "scale": {"domain": [78.4161, 84.4405], "nice": false, "zero": false}, "axis": null},
        "color": {"condition": {"test": "datum.name == 'resistance'", "value": "#000080"}, "value": "#778899"}
      }
    },
    {
      "data": {"name": "levels"},
      "mark": {"type": "text", "align": "left", "baseline": "middle", "font": "Liberation Sans", "fontSize": 9.5, "color": "#ffffff"},
      "encoding": {
        "x": {"datum": 1394, "type": "quantitative", "scale": {"domain": [2, 1388], "nice": false, "zero": false}, "axis": null},
        "y": {"field": "p", "type": "quantitative", "scale": {"domain": [78.4161, 84.4405], "nice": false, "zero": false}, "axis": null},
        "text": {"field": "p", "type": "quantitative", "format": ".3f"}
      }
    },
    {
      "data": {"name": "symbol"},
      "mark": {"type": "text", "align": "left", "baseline": "middle", "font": "Liberation Sans", "fontSize": 9.5, "color": "#000000"},
      "encoding": {
        "x": {"datum": 7, "type": "quantitative", "scale": {"domain": [2, 1388], "nice": false, "zero": false}, "axis": null},
        "y": {"datum": 84.381, "type": "quantitative", "scale": {"domain": [78.4161, 84.4405], "nice": false, "zero": false}, "axis": null},
        "text": {"field": "label"}
      }
    }
  ]
}
